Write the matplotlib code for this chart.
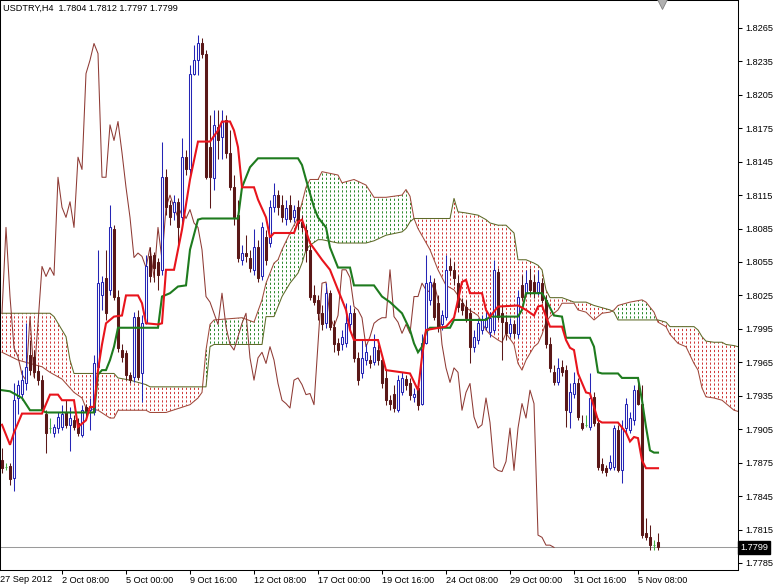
import matplotlib
matplotlib.use("Agg")
import matplotlib.pyplot as plt
import matplotlib.transforms as mtransforms
from matplotlib.collections import LineCollection
from matplotlib.path import Path
import numpy as np

plt.rcParams['font.family'] = ['Liberation Sans', 'DejaVu Sans']

# USDTRY H4 candles (bar index 0 = 27 Sep 2012 20:00)
opens = [
    1.7877, 1.7871, 1.7872, 1.7861, 1.7933, 1.7937, 1.7946, 1.7972, 1.7970, 1.7957,
    1.7949, 1.7919, 1.7906, 1.7902, 1.7906, 1.7907, 1.7920, 1.7909, 1.7913, 1.7911,
    1.7900, 1.7925, 1.7922, 1.7920, 1.7961, 1.8025, 1.8041, 1.8030, 1.8085, 1.8024,
    1.7976, 1.7973, 1.7954, 1.7952, 1.8006, 1.7955, 1.8000, 1.8060, 1.8061, 1.8055,
    1.8048, 1.8131, 1.8106, 1.8100, 1.8109, 1.8095, 1.8149, 1.8138, 1.8224, 1.8236,
    1.8251, 1.8242, 1.8158, 1.8130, 1.8176, 1.8167, 1.8182, 1.8153, 1.8122, 1.8097,
    1.8057, 1.8063, 1.8059, 1.8048, 1.8068, 1.8042, 1.8077, 1.8072, 1.8104, 1.8115,
    1.8106, 1.8094, 1.8106, 1.8095, 1.8104, 1.8091, 1.8084, 1.8066, 1.8025, 1.8021,
    1.8009, 1.8000, 1.8027, 1.7997, 1.7982, 1.7981, 1.7982, 1.7999, 1.8009, 1.7969,
    1.7955, 1.7967, 1.7967, 1.7965, 1.7976, 1.7967, 1.7951, 1.7931, 1.7937, 1.7922,
    1.7938, 1.7950, 1.7946, 1.7934, 1.7942, 1.7928, 1.7982, 1.8021, 1.8036, 1.8018,
    1.7999, 1.8006, 1.8051, 1.8048, 1.8036, 1.8018, 1.8015, 1.8009, 1.7979, 1.7985,
    1.7994, 1.7997, 1.7992, 1.7994, 1.8046, 1.8009, 1.8001, 1.7991, 1.7999, 1.7990,
    1.8034, 1.8027, 1.8039, 1.8037, 1.8028, 1.8036, 1.8021, 1.7981, 1.7956, 1.7947,
    1.7961, 1.7958, 1.7920, 1.7937, 1.7946, 1.7911, 1.7909, 1.7907, 1.7934, 1.7911,
    1.7874, 1.7870, 1.7870, 1.7871, 1.7904, 1.7868, 1.7906, 1.7904, 1.7913, 1.7940,
    1.7928, 1.7812, 1.7808, 1.7801, 1.7804,
]
highs = [
    1.7888, 1.7875, 1.7875, 1.7946, 1.7949, 1.7958, 1.8000, 1.7985, 1.7976, 1.7963,
    1.7954, 1.7922, 1.7915, 1.7910, 1.7920, 1.7927, 1.7931, 1.7925, 1.7918, 1.7915,
    1.7927, 1.7928, 1.7933, 1.7972, 1.8066, 1.8042, 1.8066, 1.8106, 1.8088, 1.8030,
    1.7981, 1.7976, 1.7956, 1.8010, 1.8012, 1.8007, 1.8061, 1.8068, 1.8064, 1.8059,
    1.8163, 1.8138, 1.8111, 1.8115, 1.8112, 1.8166, 1.8155, 1.8232, 1.8250, 1.8259,
    1.8256, 1.8245, 1.8187, 1.8191, 1.8191, 1.8191, 1.8187, 1.8173, 1.8133, 1.8111,
    1.8070, 1.8079, 1.8066, 1.8085, 1.8075, 1.8091, 1.8084, 1.8111, 1.8126, 1.8120,
    1.8115, 1.8111, 1.8115, 1.8106, 1.8111, 1.8097, 1.8088, 1.8070, 1.8034, 1.8025,
    1.8016, 1.8036, 1.8030, 1.8003, 1.7987, 1.7994, 1.8018, 1.8016, 1.8014, 1.7974,
    1.7985, 1.7981, 1.7972, 1.7990, 1.7981, 1.7972, 1.7958, 1.7936, 1.7945, 1.7954,
    1.7956, 1.7954, 1.7951, 1.7942, 1.7949, 1.7990, 1.8061, 1.8043, 1.8041, 1.8025,
    1.8012, 1.8061, 1.8059, 1.8055, 1.8043, 1.8023, 1.8021, 1.8014, 1.7994, 1.8005,
    1.8007, 1.8010, 1.8010, 1.8057, 1.8050, 1.8016, 1.8007, 1.8005, 1.8003, 1.8030,
    1.8043, 1.8048, 1.8050, 1.8043, 1.8048, 1.8041, 1.8025, 1.7988, 1.7963, 1.7969,
    1.7967, 1.7963, 1.7946, 1.7956, 1.7951, 1.7918, 1.7918, 1.7955, 1.7938, 1.7915,
    1.7879, 1.7873, 1.7882, 1.7909, 1.7909, 1.7913, 1.7933, 1.7920, 1.7945, 1.7946,
    1.7945, 1.7825, 1.7819, 1.7806, 1.7812,
]
lows = [
    1.7866, 1.7868, 1.7855, 1.7850, 1.7919, 1.7931, 1.7940, 1.7954, 1.7951, 1.7945,
    1.7920, 1.7884, 1.7902, 1.7898, 1.7902, 1.7904, 1.7906, 1.7885, 1.7904, 1.7899,
    1.7898, 1.7915, 1.7904, 1.7918, 1.7958, 1.8012, 1.8003, 1.8025, 1.8021, 1.7974,
    1.7965, 1.7949, 1.7946, 1.7947, 1.7949, 1.7929, 1.7999, 1.8037, 1.8037, 1.8030,
    1.8043, 1.8097, 1.8088, 1.8093, 1.8070, 1.8088, 1.8133, 1.8130, 1.8223, 1.8223,
    1.8238, 1.8129, 1.8103, 1.8120, 1.8147, 1.8147, 1.8148, 1.8120, 1.8088, 1.8055,
    1.8052, 1.8055, 1.8046, 1.8043, 1.8037, 1.8039, 1.8052, 1.8068, 1.8100, 1.8097,
    1.8091, 1.8088, 1.8091, 1.8091, 1.8085, 1.8082, 1.8055, 1.8021, 1.8016, 1.8003,
    1.7994, 1.7996, 1.7994, 1.7974, 1.7972, 1.7976, 1.7979, 1.7994, 1.7965, 1.7945,
    1.7951, 1.7963, 1.7960, 1.7963, 1.7963, 1.7942, 1.7927, 1.7922, 1.7920, 1.7920,
    1.7936, 1.7940, 1.7931, 1.7929, 1.7922, 1.7927, 1.7981, 1.8016, 1.8003, 1.7992,
    1.7994, 1.8003, 1.8043, 1.8034, 1.8010, 1.8007, 1.8001, 1.7964, 1.7974, 1.7981,
    1.7990, 1.7994, 1.7988, 1.7991, 1.8003, 1.7967, 1.7985, 1.7988, 1.7987, 1.7987,
    1.8021, 1.8025, 1.8025, 1.8023, 1.8025, 1.8018, 1.7978, 1.7956, 1.7945, 1.7945,
    1.7953, 1.7907, 1.7906, 1.7933, 1.7913, 1.7904, 1.7907, 1.7904, 1.7908, 1.7868,
    1.7866, 1.7863, 1.7868, 1.7868, 1.7867, 1.7857, 1.7902, 1.7902, 1.7909, 1.7927,
    1.7807, 1.7806, 1.7797, 1.7797, 1.7797,
]
closes = [
    1.7870, 1.7871, 1.7860, 1.7931, 1.7945, 1.7949, 1.7961, 1.7958, 1.7956, 1.7949,
    1.7922, 1.7902, 1.7906, 1.7907, 1.7916, 1.7919, 1.7909, 1.7915, 1.7907, 1.7902,
    1.7922, 1.7921, 1.7925, 1.7964, 1.8036, 1.8037, 1.8009, 1.8086, 1.8024, 1.7978,
    1.7970, 1.7954, 1.7949, 1.8006, 1.7952, 1.8000, 1.8051, 1.8042, 1.8050, 1.8043,
    1.8131, 1.8104, 1.8095, 1.8109, 1.8086, 1.8149, 1.8138, 1.8224, 1.8236, 1.8251,
    1.8242, 1.8131, 1.8131, 1.8178, 1.8164, 1.8181, 1.8153, 1.8122, 1.8095, 1.8059,
    1.8063, 1.8060, 1.8050, 1.8068, 1.8041, 1.8086, 1.8057, 1.8104, 1.8115, 1.8104,
    1.8095, 1.8103, 1.8094, 1.8102, 1.8090, 1.8086, 1.8066, 1.8024, 1.8019, 1.8009,
    1.7999, 1.8027, 1.7997, 1.7981, 1.7976, 1.7988, 1.8000, 1.8009, 1.7969, 1.7949,
    1.7969, 1.7974, 1.7964, 1.7979, 1.7967, 1.7946, 1.7931, 1.7928, 1.7924, 1.7949,
    1.7951, 1.7945, 1.7936, 1.7937, 1.7927, 1.7982, 1.8036, 1.8037, 1.8006, 1.7997,
    1.8007, 1.8048, 1.8048, 1.8041, 1.8015, 1.8012, 1.8005, 1.7979, 1.7988, 1.8000,
    1.8003, 1.8005, 1.8005, 1.8048, 1.8006, 1.8001, 1.7991, 1.7999, 1.7991, 1.8024,
    1.8024, 1.8036, 1.8030, 1.8028, 1.8037, 1.8021, 1.7981, 1.7960, 1.7947, 1.7960,
    1.7956, 1.7922, 1.7938, 1.7946, 1.7916, 1.7906, 1.7909, 1.7933, 1.7911, 1.7871,
    1.7868, 1.7867, 1.7876, 1.7906, 1.7868, 1.7906, 1.7928, 1.7915, 1.7940, 1.7928,
    1.7810, 1.7808, 1.7801, 1.7801, 1.7799,
]

# Ichimoku lines (bar index, price)
tenkan_bars = [0, 2, 3, 5, 10, 12, 14, 15, 18, 19, 21, 22, 23, 24, 25, 26, 28, 30, 31, 34,
               35, 36, 39, 40, 41, 43, 45, 47, 49, 52, 54, 55, 57, 58, 59, 60, 63, 64, 66, 67,
               68, 73, 74, 75, 77, 80, 82, 84, 86, 87, 88, 94, 96, 102, 104, 105, 106, 111, 113, 114,
               115, 116, 117, 120, 121, 122, 124, 129, 131, 133, 134, 135, 136, 137, 140, 141, 142, 143, 144, 146,
               147, 149, 150, 154, 156, 157, 158, 159, 160, 161, 164]
tenkan_vals = [1.7909, 1.7891, 1.7902, 1.7919, 1.7919, 1.7936, 1.7936, 1.7931, 1.7931, 1.7907,
               1.7913, 1.7925, 1.7925, 1.7958, 1.7981, 1.8000, 1.8006, 1.8007, 1.8025, 1.8025,
               1.8018, 1.8000, 1.7999, 1.8000, 1.8048, 1.8048, 1.8084, 1.8129, 1.8163, 1.8163,
               1.8173, 1.8181, 1.8181, 1.8173, 1.8158, 1.8122, 1.8122, 1.8111, 1.8095, 1.8077,
               1.8081, 1.8081, 1.8091, 1.8093, 1.8072, 1.8057, 1.8048, 1.8030, 1.8012, 1.7994,
               1.7985, 1.7985, 1.7958, 1.7955, 1.7940, 1.7970, 1.7994, 1.7997, 1.8005, 1.8021,
               1.8037, 1.8039, 1.8027, 1.8027, 1.8012, 1.8006, 1.8015, 1.8016, 1.8012, 1.8007,
               1.8015, 1.8016, 1.8006, 1.7997, 1.7997, 1.7985, 1.7978, 1.7976, 1.7955, 1.7938,
               1.7937, 1.7913, 1.7911, 1.7911, 1.7902, 1.7894, 1.7898, 1.7897, 1.7877, 1.7870,
               1.7870]

kijun_bars = [0, 2, 5, 7, 10, 11, 23, 24, 25, 26, 27, 28, 29, 39, 40, 42, 44, 46, 47, 49,
              50, 59, 60, 62, 64, 74, 75, 76, 78, 79, 81, 82, 84, 87, 88, 93, 95, 97, 100, 102,
              103, 104, 105, 106, 107, 112, 113, 121, 122, 129, 130, 131, 135, 136, 138, 140, 141, 147, 148, 149,
              150, 154, 155, 159, 160, 161, 162, 163, 164]
kijun_vals = [1.7940, 1.7939, 1.7933, 1.7922, 1.7922, 1.7920, 1.7920, 1.7954, 1.7958, 1.7958,
              1.7967, 1.7979, 1.7996, 1.7996, 1.8024, 1.8027, 1.8033, 1.8034, 1.8066, 1.8093,
              1.8094, 1.8094, 1.8122, 1.8140, 1.8148, 1.8148, 1.8142, 1.8129, 1.8104, 1.8095,
              1.8086, 1.8068, 1.8050, 1.8050, 1.8034, 1.8034, 1.8024, 1.8019, 1.8009, 1.7994,
              1.7982, 1.7974, 1.7979, 1.7992, 1.7996, 1.7996, 1.8003, 1.8003, 1.8006, 1.8006,
              1.8012, 1.8027, 1.8027, 1.8021, 1.8007, 1.8006, 1.7987, 1.7987, 1.7979, 1.7956,
              1.7955, 1.7955, 1.7951, 1.7951, 1.7931, 1.7907, 1.7886, 1.7884, 1.7884]

span_bars = [0, 4, 10, 12, 13, 15, 16, 17, 18, 20, 21, 24, 27, 28, 29, 32, 36, 37, 41, 47,
             49, 50, 51, 52, 53, 60, 63, 65, 66, 68, 69, 70, 72, 74, 75, 76, 77, 79, 80, 84,
             85, 88, 91, 93, 96, 100, 101, 102, 103, 104, 107, 109, 110, 111, 112, 113, 114, 116, 119, 121,
             122, 124, 125, 126, 128, 129, 130, 131, 133, 134, 135, 136, 137, 139, 140, 143, 144, 146, 148, 150,
             152, 153, 154, 157, 160, 161, 163, 164, 166, 167, 169, 171, 173, 174, 175, 176, 178, 180, 181, 183,
             184]
span_a = [1.7974, 1.7967, 1.7961, 1.7956, 1.7954, 1.7950, 1.7946, 1.7942, 1.7938, 1.7933,
          1.7924, 1.7922, 1.7915, 1.7915, 1.7922, 1.7922, 1.7922, 1.7920, 1.7920, 1.7927,
          1.7933, 1.7938, 1.7976, 1.7999, 1.8003, 1.8005, 1.8001, 1.8021, 1.8036, 1.8054,
          1.8057, 1.8066, 1.8081, 1.8095, 1.8108, 1.8122, 1.8129, 1.8129, 1.8136, 1.8133,
          1.8126, 1.8129, 1.8124, 1.8113, 1.8113, 1.8115, 1.8120, 1.8114, 1.8094, 1.8085,
          1.8066, 1.8048, 1.8041, 1.8034, 1.8032, 1.8030, 1.8025, 1.8014, 1.8007, 1.7994,
          1.7990, 1.7985, 1.7983, 1.7991, 1.7981, 1.7964, 1.7958, 1.7967, 1.7979, 1.7982,
          1.7990, 1.8001, 1.8006, 1.8012, 1.8018, 1.8018, 1.8012, 1.8010, 1.8003, 1.8009,
          1.8010, 1.8012, 1.8016, 1.8019, 1.8021, 1.8019, 1.8010, 1.8001, 1.7997, 1.7990,
          1.7982, 1.7979, 1.7964, 1.7958, 1.7942, 1.7934, 1.7933, 1.7931, 1.7928, 1.7922,
          1.7921]
span_b = [1.8009, 1.8009, 1.8009, 1.8009, 1.8006, 1.7994, 1.7988, 1.7967, 1.7955, 1.7955,
          1.7955, 1.7955, 1.7955, 1.7955, 1.7951, 1.7949, 1.7945, 1.7943, 1.7943, 1.7943,
          1.7943, 1.7943, 1.7943, 1.7979, 1.7981, 1.7981, 1.7981, 1.7981, 1.8006, 1.8006,
          1.8015, 1.8024, 1.8036, 1.8045, 1.8054, 1.8066, 1.8070, 1.8075, 1.8075, 1.8072,
          1.8072, 1.8072, 1.8072, 1.8074, 1.8079, 1.8082, 1.8085, 1.8091, 1.8094, 1.8094,
          1.8094, 1.8094, 1.8094, 1.8094, 1.8094, 1.8112, 1.8100, 1.8099, 1.8097, 1.8093,
          1.8090, 1.8088, 1.8088, 1.8088, 1.8081, 1.8057, 1.8057, 1.8057, 1.8054, 1.8052,
          1.8048, 1.8030, 1.8023, 1.8023, 1.8023, 1.8019, 1.8019, 1.8019, 1.8016, 1.8014,
          1.8012, 1.8010, 1.8003, 1.8003, 1.8003, 1.8003, 1.8003, 1.8003, 1.8001, 1.7997,
          1.7997, 1.7997, 1.7997, 1.7994, 1.7988, 1.7984, 1.7983, 1.7983, 1.7981, 1.7980,
          1.7979]

chikou_shift = 26

tick_bars = [15, 31, 47, 63, 79, 95, 111, 127, 143, 159]
tick_labels = ['2 Oct 08:00', '5 Oct 00:00', '9 Oct 16:00', '12 Oct 08:00', '17 Oct 00:00',
               '19 Oct 16:00', '24 Oct 08:00', '29 Oct 00:00', '31 Oct 16:00', '5 Nov 08:00']
price_ticks = [1.7785, 1.7815, 1.7845, 1.7875, 1.7905, 1.7935, 1.7965, 1.7995, 1.8025,
               1.8055, 1.8085, 1.8115, 1.8145, 1.8175, 1.8205, 1.8235, 1.8265]

BULL = '#2525b5'
BEAR = '#5a1818'
DOJI = '#44b044'
FS = 6.6

fig = plt.figure(figsize=(7.74, 5.87), dpi=100)
ax = fig.add_axes([0, 17 / 587, 738 / 774, 570 / 587])
ax.set_xlim(-0.5, 184)
ax.set_ylim(1.77787, 1.8290)

# --- cloud: dotted vertical strokes clipped to the area between the spans
sx = np.array(span_bars, dtype=float)
sa = np.array(span_a)
sb = np.array(span_b)
y0, y1 = ax.get_ylim()
cols = np.arange(0, 185)
for mask, col in [(sa >= sb, '#2e8b2e'), (sa <= sb, '#d03a3a')]:
    poly = ax.fill_between(sx, sa, sb, where=mask, interpolate=True,
                           facecolor='none', edgecolor='none', linewidth=0)
    paths = poly.get_paths()
    if not paths:
        continue
    clip = Path.make_compound_path(*paths)
    segs = [[(c, y0), (c, y1)] for c in cols]
    lc = LineCollection(segs, colors=col, linewidths=0.72,
                        linestyles=[(0, (2.2, 2.0))], zorder=1)
    ax.add_collection(lc)
    lc.set_clip_path(clip, ax.transData)

ax.plot(sx, sa, color='#a04a3c', lw=0.75, zorder=2)
ax.plot(sx, sb, color='#5e6a28', lw=0.75, zorder=2)

# --- chikou span
x = np.arange(len(closes))
c = np.array(closes)
ax.plot(x[:len(c) - chikou_shift], c[chikou_shift:], color='#8e3a34', lw=0.75, zorder=2.5)

# --- bid line
ax.axhline(closes[-1], color='#9a9a9a', lw=0.75, zorder=2)

# --- candles
o = np.array(opens)
h = np.array(highs)
l = np.array(lows)
kind = np.where(c > o, 'bull', np.where(c < o, 'bear', 'doji'))
wick_cols = [BULL if k == 'bull' else BEAR if k == 'bear' else DOJI for k in kind]
face_cols = ['white' if k == 'bull' else BEAR if k == 'bear' else DOJI for k in kind]
ax.vlines(x, l, h, colors=wick_cols, lw=0.75, zorder=3)
ax.bar(x, np.abs(c - o), bottom=np.minimum(o, c), width=0.55,
       color=face_cols, edgecolor=wick_cols, linewidth=0.75, zorder=4)

# --- tenkan / kijun
ax.plot(kijun_bars, kijun_vals, color='#1e7b1e', lw=1.5, zorder=5, solid_joinstyle='miter')
ax.plot(tenkan_bars, tenkan_vals, color='#e8141c', lw=1.5, zorder=6, solid_joinstyle='miter')

# --- axes styling
for sp in ax.spines.values():
    sp.set_color('black')
    sp.set_linewidth(0.75)
ax.yaxis.tick_right()
ax.set_yticks(price_ticks)
ax.set_yticklabels([f'{p:.4f}' for p in price_ticks])
ax.tick_params(axis='y', direction='out', length=3, width=0.75, pad=2, labelsize=FS)
ax.set_xticks(tick_bars)
ax.set_xticklabels(tick_labels)
ax.tick_params(axis='x', direction='out', length=3, width=0.75, pad=1.5, labelsize=FS)
for lab in ax.get_xticklabels():
    lab.set_horizontalalignment('left')

ax.text(0.004, 0.986, 'USDTRY,H4  1.7804 1.7812 1.7797 1.7799', transform=ax.transAxes,
        fontsize=FS, va='center', ha='left', color='black')
fig.text(0.5 / 774, (587 - 579) / 587, '27 Sep 2012', fontsize=FS, va='center', ha='left')

# chart-shift marker at the top edge
ax.plot([165], [0.993], transform=mtransforms.blended_transform_factory(ax.transData, ax.transAxes),
        marker='v', ms=7, mfc='#b0b0b0', mec='#808080', mew=0.6, ls='none', clip_on=False, zorder=9)

trans = mtransforms.blended_transform_factory(ax.transAxes, ax.transData)
ax.text(1.003, closes[-1], f'{closes[-1]:.4f}', transform=trans, fontsize=FS, color='white',
        va='center', ha='left', zorder=10,
        bbox=dict(boxstyle='square,pad=0.25', fc='black', ec='black'))

fig.savefig('out.png', dpi=100)
